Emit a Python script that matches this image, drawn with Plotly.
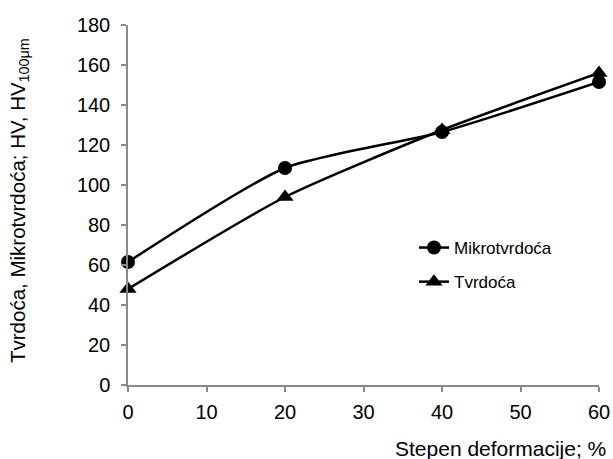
import plotly.graph_objects as go

deformation = [0, 20, 40, 60]
mikrotvrdoca = [61.5, 108.5, 126.5, 151.5]
tvrdoca = [48, 94, 127.5, 156]

x_ticks = [0, 10, 20, 30, 40, 50, 60]
y_ticks = [0, 20, 40, 60, 80, 100, 120, 140, 160, 180]

FONT = "Liberation Sans, Arial, sans-serif"

fig = go.Figure()
fig.add_trace(go.Scatter(
    x=deformation, y=mikrotvrdoca, name="Mikrotvrdoća",
    mode="lines+markers", line=dict(color="black", width=2.5, shape="spline", smoothing=0.6),
    marker=dict(symbol="circle", size=14, color="black"), legendgroup="a", cliponaxis=False))
fig.add_trace(go.Scatter(
    x=deformation, y=tvrdoca, name="Tvrdoća",
    mode="lines+markers", line=dict(color="black", width=2.5, shape="spline", smoothing=0.6),
    marker=dict(symbol="triangle-up", size=15, color="black"), legendgroup="b", cliponaxis=False))

fig.update_layout(
    width=613, height=459,
    margin=dict(l=128, r=14, t=25, b=74),
    paper_bgcolor="white", plot_bgcolor="white",
    font=dict(family=FONT, size=20, color="black"),
    showlegend=True,
    legend=dict(x=(414 - 128) / 471, y=(385 - 230) / 360, xanchor="left", yanchor="top",
                bgcolor="rgba(0,0,0,0)", font=dict(size=17), tracegroupgap=9,
                traceorder="grouped", itemwidth=30),
    xaxis=dict(range=[0, 60], tickvals=x_ticks, showgrid=False, zeroline=False,
               showline=True, linecolor="#8a8a8a", linewidth=1.5, automargin=False,
               ticks="outside", ticklen=5, tickcolor="#8a8a8a", tickwidth=1.5,
               ticklabelstandoff=3),
    yaxis=dict(range=[0, 180], tickvals=y_ticks, showgrid=False, zeroline=False,
               showline=True, linecolor="#8a8a8a", linewidth=1.5, automargin=False,
               ticks="outside", ticklen=5, tickcolor="#8a8a8a", tickwidth=1.5,
               ticklabelstandoff=7),
    annotations=[
        dict(text="Stepen deformacije; %", xref="paper", yref="paper",
             x=(608 - 128) / 471, y=-(448 - 385) / 360, xanchor="right", yanchor="middle",
             showarrow=False, font=dict(size=21)),
        dict(text="Tvrdoća, Mikrotvrdoća; HV, HV<sub>100μm</sub>", xref="paper", yref="paper",
             x=-(128 - 19) / 471, y=(385 - 201) / 360, xanchor="center", yanchor="middle",
             textangle=-90, showarrow=False, font=dict(size=20.5)),
    ],
)

fig.write_html("out.html", config={"displayModeBar": False},
               post_script="document.body.style.margin='0';document.body.style.overflow='hidden';")
